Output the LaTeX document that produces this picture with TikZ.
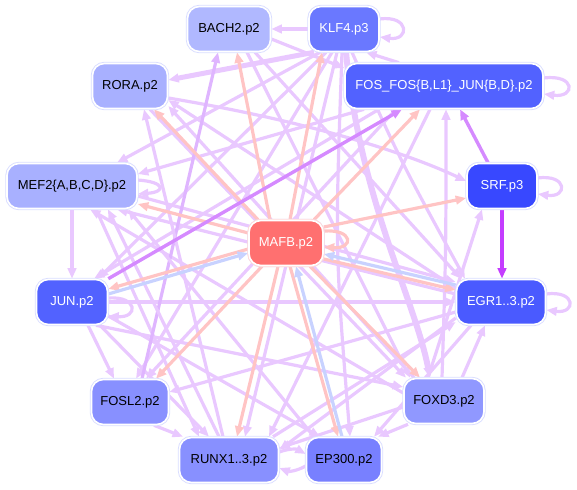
\documentclass[tikz,border=0pt]{standalone}
\usepackage{fontspec}
\setmainfont{Liberation Sans}
\usetikzlibrary{arrows.meta}
\pgfdeclarelayer{bg}
\pgfsetlayers{bg,main}
\definecolor{eA}{HTML}{E9C8FF}
\definecolor{eB}{HTML}{DFB5FF}
\definecolor{eR}{HTML}{FFC4C4}
\definecolor{eL}{HTML}{C8D2FF}
\definecolor{eS}{HTML}{D58AFF}
\definecolor{eT}{HTML}{C43DFF}
\definecolor{bd}{HTML}{D9DDFF}
\definecolor{bdr}{HTML}{FFD8D8}
\definecolor{cBACH}{HTML}{B0B8FF}
\definecolor{cKLF}{HTML}{6A78FF}
\definecolor{cRORA}{HTML}{A8B0FF}
\definecolor{cFOS}{HTML}{5262FF}
\definecolor{cMEF}{HTML}{A8B0FF}
\definecolor{cSRF}{HTML}{3848FF}
\definecolor{cMAFB}{HTML}{FF7070}
\definecolor{cJUN}{HTML}{5262FF}
\definecolor{cEGR}{HTML}{4A5AFF}
\definecolor{cFOSL}{HTML}{8890FF}
\definecolor{cFOXD}{HTML}{9098FF}
\definecolor{cRUNX}{HTML}{8890FF}
\definecolor{cEP}{HTML}{7880FF}
\begin{document}
\begin{tikzpicture}[x=1pt,y=-1pt,
  gn/.style={rounded corners=12pt, minimum height=45pt, inner sep=0pt,
    font=\fontsize{13}{15}\selectfont, draw=white, line width=1.6pt,
    preaction={draw=bd, line width=3.4pt}},
  dk/.style={gn, text=white},
  lt/.style={gn, text=black},
  e/.style={draw=eA, line width=3.2pt, -{Triangle[length=10.5pt,width=8.5pt]}},
  eb/.style={e, draw=eB},
  er/.style={e, draw=eR},
  el/.style={e, draw=eL},
  es/.style={e, draw=eS, line width=3.4pt},
  et/.style={e, draw=eT, line width=3.4pt}]
\useasboundingbox (0,0) rectangle (577,489);
\node[lt, fill=cBACH, minimum width=83pt] (BACH) at (229,29) {BACH2.p2};
\node[dk, fill=cKLF, minimum width=70pt] (KLF) at (344,29) {KLF4.p3};
\node[lt, fill=cRORA, minimum width=75pt] (RORA) at (130,86) {RORA.p2};
\node[dk, fill=cFOS, minimum width=198pt] (FOS) at (444,86) {FOS\_FOS\{B,L1\}\_JUN\{B,D\}.p2};
\node[lt, fill=cMEF, minimum width=130pt] (MEF) at (72,186) {MEF2\{A,B,C,D\}.p2};
\node[dk, fill=cSRF, minimum width=70pt] (SRF) at (502,186) {SRF.p3};
\node[dk, fill=cMAFB, minimum width=74pt, preaction={draw=bdr, line width=3.4pt}] (MAFB) at (286,243) {MAFB.p2};
\node[dk, fill=cJUN, minimum width=71pt] (JUN) at (72,302) {JUN.p2};
\node[dk, fill=cEGR, minimum width=89pt] (EGR) at (501,302) {EGR1..3.p2};
\node[lt, fill=cFOSL, minimum width=77pt] (FOSL) at (130,402) {FOSL2.p2};
\node[lt, fill=cFOXD, minimum width=80pt] (FOXD) at (444,401) {FOXD3.p2};
\node[lt, fill=cRUNX, minimum width=99pt] (RUNX) at (229,460) {RUNX1..3.p2};
\node[lt, fill=cEP, minimum width=75pt] (EP) at (344,460) {EP300.p2};
\begin{pgfonlayer}{bg}
% KLF4
\draw[e] (KLF.west) -- (BACH.east);
\draw[e, line width=5pt] ([xshift=-30pt]KLF.south) -- ([yshift=6pt]RORA.east);
\draw[e] ([xshift=-24pt]KLF.south) -- ([xshift=45pt]MEF.north);
\draw[e] ([xshift=-18pt]KLF.south) -- ([xshift=26pt]JUN.north);
\draw[e] ([xshift=-12pt]KLF.south) -- ([xshift=6pt]FOSL.north);
\draw[e] ([xshift=-7pt]KLF.south) -- ([xshift=16pt]RUNX.north);
\draw[e] ([xshift=-2pt]KLF.south) .. controls (335,250) .. ([xshift=6pt]EP.north);
\draw[e, line width=6pt] ([xshift=2pt]KLF.south) .. controls (360,200) and (415,300) .. ([xshift=-14pt]FOXD.north);
\draw[e] ([xshift=8pt]KLF.south) .. controls (400,160) .. ([xshift=-36pt]EGR.north);
\draw[e] ([xshift=-45pt]FOS.north) -- ([xshift=22pt]KLF.south);
\draw[e] ([yshift=10pt]KLF.east) .. controls +(30,-4) and +(30,4) .. ([yshift=-8pt]KLF.east);
% BACH2
\draw[e] ([yshift=-10pt]BACH.east) -- ([yshift=18pt]FOS.west);
\draw[e] ([xshift=26pt]BACH.south) -- ([xshift=-40pt]EGR.north);
\draw[e] ([xshift=18pt]BACH.south) -- ([xshift=-34pt]FOXD.north);
% RORA
\draw[e] ([yshift=-12pt]RORA.east) .. controls (300,120) and (400,150) .. ([yshift=5pt]SRF.west);
\draw[e] ([xshift=20pt]RORA.south) -- ([xshift=-38pt]FOXD.north);
% FOS
\draw[e] ([xshift=-80pt]FOS.south) -- ([yshift=12pt]MEF.east);
\draw[e] ([xshift=-65pt]FOS.south) -- ([xshift=22pt]JUN.north);
\draw[e] ([xshift=-48pt]FOS.south) -- ([xshift=16pt]FOSL.north);
\draw[e] ([xshift=-14pt]FOS.south) -- ([xshift=40pt]RUNX.north);
\draw[e] ([yshift=8pt]FOS.east) .. controls +(32,-4) and +(32,4) .. ([yshift=-8pt]FOS.east);
% SRF
\draw[e] ([yshift=8pt]SRF.east) .. controls +(30,-4) and +(30,4) .. ([yshift=-8pt]SRF.east);
% EGR
\draw[e] ([yshift=14pt]EGR.west) -- ([yshift=-14pt]RORA.east);
\draw[e] ([yshift=8pt]EGR.west) -- ([xshift=45pt]MEF.south);
\draw[e] ([yshift=-10pt]EGR.west) -- ([yshift=10pt]FOSL.east);
\draw[e] ([yshift=-16pt]EGR.west) -- ([yshift=10pt]RUNX.east);
\draw[e] ([xshift=-30pt]EGR.south) -- ([xshift=30pt]EP.north);
\draw[e] ([yshift=8pt]EGR.east) .. controls +(30,-4) and +(30,4) .. ([yshift=-8pt]EGR.east);
% FOXD3
\draw[e] ([xshift=18pt]FOXD.north) -- ([xshift=-16pt]EGR.south);
\draw[e] ([xshift=-16pt]FOXD.north) -- ([xshift=-20pt]SRF.south);
\draw[e] ([xshift=-2pt]FOXD.north) .. controls (446,250) .. ([xshift=2pt]FOS.south);
\draw[e] ([xshift=-36pt]FOXD.south) -- ([xshift=34pt]EP.north);
\draw[e] ([yshift=-6pt]FOXD.west) -- ([yshift=12pt]RUNX.east);
\draw[e] ([yshift=8pt]FOXD.west) -- ([xshift=18pt]MEF.south);
\draw[e] ([xshift=-30pt]FOXD.north) -- ([yshift=-20pt]RORA.east);
% MEF2
\draw[e] (MEF.south) -- (JUN.north);
\draw[e] ([yshift=-10pt]MEF.east) -- ([yshift=20pt]EGR.west);
\draw[e] ([xshift=24pt]MEF.south) -- ([xshift=-30pt]RUNX.north);
\draw[e] ([yshift=6pt]MEF.east) .. controls +(28,2) and +(28,-2) .. ([yshift=-8pt]MEF.east);
% JUN
\draw[e] (JUN.east) -- (EGR.west);
\draw[e] ([xshift=16pt]JUN.south) -- ([xshift=-16pt]FOSL.north);
\draw[e] ([xshift=28pt]JUN.south) -- ([xshift=-20pt]RUNX.north);
\draw[e] ([yshift=-14pt]JUN.east) -- ([xshift=-24pt]EP.north);
\draw[e] ([xshift=24pt]JUN.south) -- ([yshift=14pt]FOXD.west);
\draw[e] ([yshift=4pt]JUN.east) .. controls +(30,-2) and +(30,2) .. ([yshift=-14pt]JUN.east);
% FOSL2
\draw[eb] ([xshift=12pt]FOSL.north) -- ([xshift=-11pt]BACH.south);
\draw[e] ([xshift=24pt]FOSL.south) -- ([xshift=-46pt]RUNX.north);
% RUNX / EP300
\draw[e] ([xshift=-10pt]RUNX.north) -- ([xshift=36pt]MEF.south);
\draw[e] ([xshift=-6pt]RUNX.north) -- ([xshift=14pt]RORA.south);
\draw[e] ([xshift=44pt]RUNX.north) -- ([yshift=-20pt]EGR.west);
\draw[e] ([yshift=8pt]RUNX.east) to[bend left=25] ([yshift=6pt]EP.west);
\draw[e] ([yshift=-6pt]EP.west) to[bend left=25] ([yshift=-8pt]RUNX.east);
\draw[e] ([xshift=-30pt]EP.north) -- ([xshift=56pt]MEF.south);
% MAFB (red)
\draw[er] ([xshift=-16pt]MAFB.north) -- ([xshift=8pt]BACH.south);
\draw[er] ([xshift=4pt]MAFB.north) -- ([xshift=-22pt]KLF.south);
\draw[er] ([xshift=-28pt]MAFB.north) -- ([xshift=24pt]RORA.south);
\draw[er] ([yshift=10pt]MAFB.west) -- ([yshift=-18pt]MEF.east);
\draw[er] ([yshift=-6pt]MAFB.west) -- ([yshift=13pt]JUN.east);
\draw[er] ([xshift=-24pt]MAFB.south) -- ([xshift=26pt]FOSL.north);
\draw[er] ([xshift=-8pt]MAFB.south) -- ([xshift=8pt]RUNX.north);
\draw[er] ([xshift=4pt]MAFB.south) -- ([xshift=-6pt]EP.north);
\draw[er] ([xshift=24pt]MAFB.south) -- ([xshift=-24pt]FOXD.north);
\draw[er] ([yshift=-16pt]MAFB.east) -- ([yshift=12pt]EGR.west);
\draw[er] ([yshift=16pt]MAFB.east) -- ([yshift=-12pt]SRF.west);
\draw[er] ([xshift=28pt]MAFB.north) -- ([xshift=-24pt]FOS.south);
\draw[er] ([yshift=12pt]MAFB.east) .. controls +(30,-2) and +(30,2) .. ([yshift=-4pt]MAFB.east);
% blue
\draw[el] ([yshift=8pt]JUN.east) -- ([yshift=-10pt]MAFB.west);
\draw[el] ([xshift=-2pt]EP.north) -- ([xshift=10pt]MAFB.south);
\draw[el] ([yshift=17pt]EGR.west) -- ([yshift=-11pt]MAFB.east);
% strong
\draw[es] (JUN.north east) -- ([xshift=-42pt]FOS.south);
\draw[es] ([xshift=-14pt]SRF.north) -- ([xshift=16pt]FOS.south);
\draw[et] (SRF.south) -- (SRF.south |- EGR.north);
\end{pgfonlayer}
\end{tikzpicture}
\end{document}
